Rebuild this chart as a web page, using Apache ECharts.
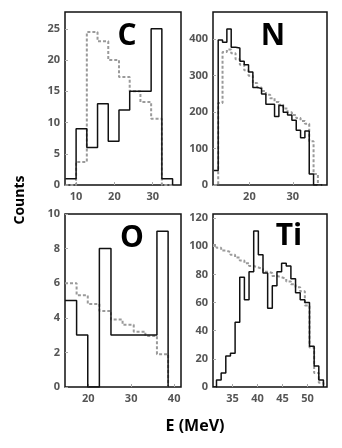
<!DOCTYPE html>
<html>
<head>
<meta charset="utf-8">
<script src="https://cdn.jsdelivr.net/npm/echarts@6/dist/echarts.min.js"></script>
<style>
  html, body { margin: 0; padding: 0; background: #fff; }
  #chart { width: 342px; height: 448px; }
</style>
</head>
<body>
<div id="chart"></div>
<script>
// bin edges (MeV) and counts
const cEdges = [7.2, 10, 12.8, 15.6, 18.4, 21.2, 24, 26.8, 29.6, 32.4, 35.2];
const cSolid = [1, 9, 6, 13, 7, 12, 15, 15, 25, 1];
const cDotted = [0, 3.7, 24.5, 23, 20, 17.3, 15, 13.3, 10.6, 0];

const nEdges = [11.8, 12.8, 13.8, 14.8, 15.8, 16.8, 17.8, 18.8, 19.8, 20.8, 21.8, 22.8, 23.8,
  24.8, 25.8, 26.8, 27.8, 28.8, 29.8, 30.8, 31.8, 32.8, 33.8, 34.8, 35.8, 36.8];
const nSolid = [40, 398, 392, 428, 378, 376, 340, 330, 310, 268, 265, 250, 222,
  222, 188, 218, 200, 192, 178, 150, 130, 148, 30, 0, 0];
const nDotted = [0, 225, 365, 372, 362, 345, 330, 315, 300, 280, 268, 258, 248,
  238, 228, 220, 210, 200, 192, 184, 176, 168, 120, 30, 0];

const oEdges = [14.6, 17.3, 19.9, 22.6, 25.3, 28, 30.6, 33.3, 36, 38.6];
const oSolid = [5, 3, 0, 8, 3, 3, 3, 3, 9];
const oDotted = [6, 5.3, 4.8, 4.4, 3.9, 3.6, 3.2, 2.95, 1.9];

const tiEdges = [31.1, 31.8, 32.73, 33.66, 34.59, 35.52, 36.45, 37.38, 38.31, 39.24, 40.17, 41.1,
  42.03, 42.96, 43.89, 44.82, 45.75, 46.68, 47.61, 48.54, 49.47, 50.4, 51.33, 52.26, 53.19];
const tiSolid = [0, 5, 10, 22, 24, 46, 78, 62, 82, 111, 94, 81, 56, 72, 82, 88, 86, 77, 67, 62, 60, 29, 15, 5];
const tiDotted = [101, 99, 97, 96, 94, 92, 90, 88, 86, 85, 84, 82, 81, 79, 78, 77, 75, 73, 71, 68, 58, 28, 10, 3];

const cXTicks = [10, 20, 30];
const nXTicks = [20, 30];
const oXTicks = [20, 30, 40];
const tiXTicks = [35, 40, 45, 50];

const cYTicks = [0, 5, 10, 15, 20, 25];
const nYTicks = [0, 100, 200, 300, 400];
const oYTicks = [0, 2, 4, 6, 8, 10];
const tiYTicks = [0, 20, 40, 60, 80, 100, 120];

// histogram outline points for a step line
function hist(edges, vals) {
  const pts = vals.map((v, i) => [edges[i], v]);
  pts.push([edges[vals.length], 0]);
  return pts;
}

const labelStyle = { color: '#555', fontSize: 11, fontWeight: 'bold', fontFamily: 'Open Sans' };

const panels = [
  { name: 'C', box: [65, 12, 116, 173], x: [7.1, 37.4], y: [0, 27.7], xt: cXTicks, yt: cYTicks,
    edges: cEdges, solid: cSolid, dotted: cDotted, tag: [127, 36] },
  { name: 'N', box: [213, 12, 114, 173], x: [11.6, 37.9], y: [0, 475], xt: nXTicks, yt: nYTicks,
    edges: nEdges, solid: nSolid, dotted: nDotted, tag: [273, 36] },
  { name: 'O', box: [65, 214, 116, 173], x: [14.6, 41.6], y: [0, 10], xt: oXTicks, yt: oYTicks,
    edges: oEdges, solid: oSolid, dotted: oDotted, tag: [132, 238] },
  { name: 'Ti', box: [213, 214, 114, 173], x: [31.1, 53.9], y: [0, 123], xt: tiXTicks, yt: tiYTicks,
    edges: tiEdges, solid: tiSolid, dotted: tiDotted, tag: [289, 236] }
];

const grid = [], xAxis = [], yAxis = [], series = [], graphic = [];

panels.forEach((p, i) => {
  grid.push({
    left: p.box[0], top: p.box[1], width: p.box[2], height: p.box[3],
    show: true, borderColor: '#111', borderWidth: 1.5, backgroundColor: '#fff'
  });
  xAxis.push({
    gridIndex: i, type: 'value', min: p.x[0], max: p.x[1],
    axisLine: { show: false },
    axisTick: { show: true, inside: true, length: 3, lineStyle: { color: '#aaa' }, customValues: p.xt },
    axisLabel: Object.assign({ margin: 6, customValues: p.xt }, labelStyle),
    splitLine: { show: false }
  });
  yAxis.push({
    gridIndex: i, type: 'value', min: p.y[0], max: p.y[1],
    axisLine: { show: false },
    axisTick: { show: true, inside: true, length: 3, lineStyle: { color: '#aaa' }, customValues: p.yt },
    axisLabel: Object.assign({ margin: 5, customValues: p.yt }, labelStyle),
    splitLine: { show: false }
  });
  series.push({
    type: 'line', step: 'end', xAxisIndex: i, yAxisIndex: i,
    data: hist(p.edges, p.dotted), showSymbol: false, silent: true,
    lineStyle: { color: '#9a9a9a', width: 2, type: [3, 2] }, z: 2
  });
  series.push({
    type: 'line', step: 'end', xAxisIndex: i, yAxisIndex: i,
    data: hist(p.edges, p.solid), showSymbol: false, silent: true,
    lineStyle: { color: '#111', width: 1.5 }, z: 3
  });
  graphic.push({
    type: 'text', x: p.tag[0], y: p.tag[1], z: 10,
    style: { text: p.name, fill: '#000', font: 'bold 30px "Open Sans"', align: 'center', verticalAlign: 'middle' }
  });
});

graphic.push({
  type: 'text', x: 20, y: 200, rotation: Math.PI / 2,
  style: { text: 'Counts', fill: '#000', font: 'bold 14px "Open Sans"', align: 'center', verticalAlign: 'middle' }
});
graphic.push({
  type: 'text', x: 195, y: 426,
  style: { text: 'E (MeV)', fill: '#000', font: 'bold 16px "Open Sans"', align: 'center', verticalAlign: 'middle' }
});

const chart = echarts.init(document.getElementById('chart'), null, { renderer: 'canvas' });
chart.setOption({ animation: false, grid, xAxis, yAxis, series, graphic });
</script>
</body>
</html>
